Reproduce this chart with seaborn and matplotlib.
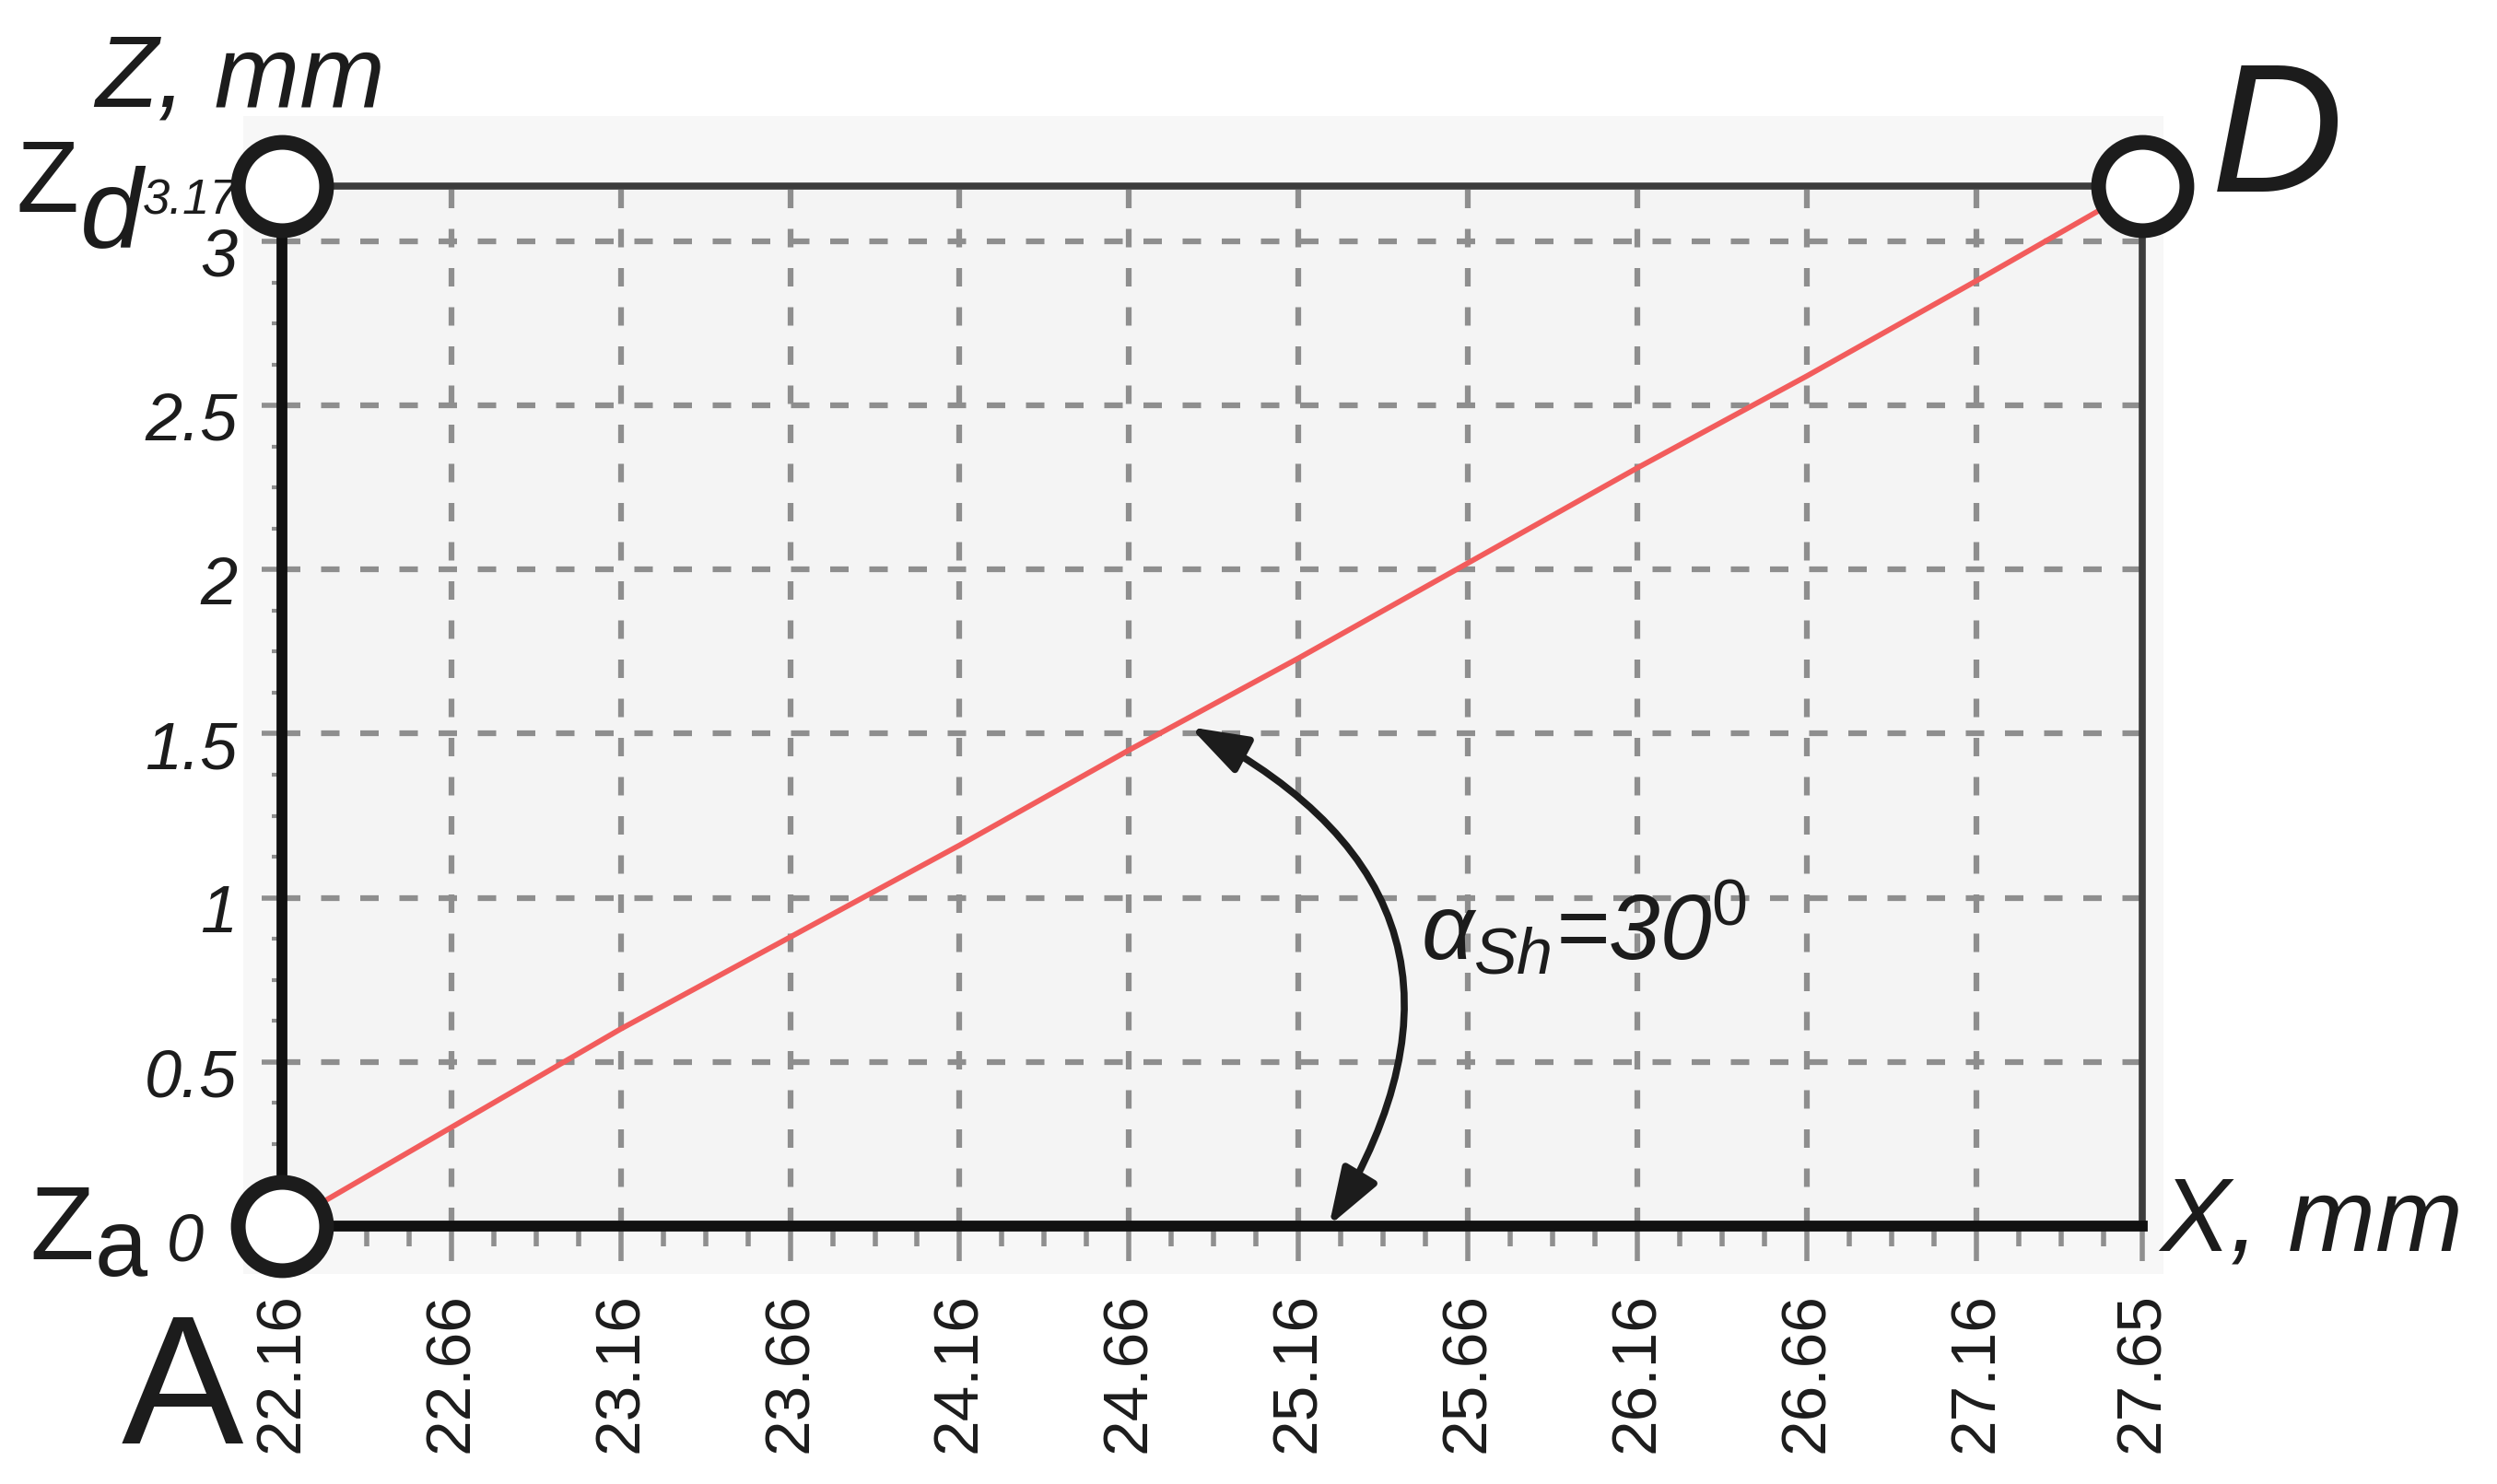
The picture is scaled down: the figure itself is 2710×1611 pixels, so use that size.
import numpy as np
import matplotlib
matplotlib.use("Agg")
import matplotlib.pyplot as plt
import matplotlib.transforms as mtransforms
from matplotlib.patches import Rectangle
from matplotlib.ticker import MultipleLocator
import seaborn as sns

# ---- data ----
x_ticks = [22.16, 22.66, 23.16, 23.66, 24.16, 24.66, 25.16, 25.66, 26.16, 26.66, 27.16, 27.65]
x_tick_labels = ["22.16", "22.66", "23.16", "23.66", "24.16", "24.66",
                 "25.16", "25.66", "26.16", "26.66", "27.16", "27.65"]
z_ticks = [0, 0.5, 1, 1.5, 2, 2.5, 3, 3.17]
z_tick_labels = ["0", "0.5", "1", "1.5", "2", "2.5", "3", "3.17"]

# shaft profile (red line), sampled at the grid columns
profile_x = [22.16, 22.66, 23.16, 23.66, 24.16, 24.66, 25.16, 25.66, 26.16, 26.66, 27.16, 27.65]
profile_z = [0.00, 0.30, 0.60, 0.88, 1.16, 1.45, 1.73, 2.02, 2.31, 2.59, 2.88, 3.17]

# key points A, D and the Zd level marker
point_x = [22.16, 27.65, 22.16]
point_z = [0.0, 3.17, 3.17]

# angle arrow ends and label
arrow_top = (24.84, 1.52)
arrow_bottom = (25.25, 0.0)
angle_label = r"$\alpha_{Sh}$=30$^{\mathit{0}}$"
angle_label_pos = (25.52, 0.81)

# ---- style ----
sns.set_style("white")
plt.rcParams["font.family"] = ["Liberation Sans", "DejaVu Sans"]
plt.rcParams["mathtext.fontset"] = "custom"
plt.rcParams["mathtext.rm"] = "Liberation Sans"
plt.rcParams["mathtext.it"] = "Liberation Sans:italic"

fig = plt.figure(figsize=(27.1, 16.11), dpi=100)
fig.patch.set_facecolor("white")
fig.patches.append(Rectangle((0.0974, 0.1415), 0.769, 0.780, transform=fig.transFigure,
                             facecolor="#f7f7f7", edgecolor="none", zorder=-1))
ax = fig.add_axes([0.1129, 0.174, 0.745, 0.7008])
ax.set_facecolor("#f4f4f4")

sns.lineplot(x=profile_x, y=profile_z, ax=ax, color="#f25c5c", lw=4.2, zorder=4)
ax.plot(point_x, point_z, linestyle="none", marker="o", ms=69, mew=11.5,
        mfc="white", mec="#1c1c1c", clip_on=False, zorder=10)

ax.annotate("", xy=arrow_bottom, xytext=arrow_top,
            arrowprops=dict(arrowstyle="<|-|>,head_length=1.9,head_width=0.65",
                            connectionstyle="arc3,rad=-0.53", color="#1c1c1c",
                            lw=5.5, mutation_scale=20, shrinkA=0, shrinkB=0),
            zorder=6)
ax.text(*angle_label_pos, angle_label, fontsize=72, fontstyle="italic",
        ha="left", va="baseline", color="#1c1c1c", zorder=7)

ax.set_xlim(x_ticks[0], x_ticks[-1])
ax.set_ylim(z_ticks[0], z_ticks[-1])
ax.set_xticks(x_ticks)
ax.set_xticklabels(x_tick_labels, rotation=90, fontsize=50, color="#1c1c1c")
ax.set_yticks(z_ticks)
ax.set_yticklabels(z_tick_labels, fontsize=52, color="#1c1c1c")
ax.xaxis.set_minor_locator(MultipleLocator(0.125, offset=22.16))
ax.yaxis.set_minor_locator(MultipleLocator(0.125))

ax.tick_params(axis="x", which="major", direction="out", length=27, width=4,
               color="#8f8f8f", pad=25, bottom=True)
ax.tick_params(axis="x", which="minor", direction="out", length=16, width=4,
               color="#8f8f8f", bottom=True)
ax.tick_params(axis="y", which="major", direction="out", length=16, width=4,
               color="#8f8f8f", pad=19, left=True)
ax.tick_params(axis="y", which="minor", direction="out", length=8, width=3,
               color="#8f8f8f", left=True)

shift = mtransforms.ScaledTranslation(0, -8 / 72, fig.dpi_scale_trans)
for lbl in ax.get_yticklabels():
    lbl.set_fontstyle("italic")
    lbl.set_transform(lbl.get_transform() + shift)
ylabels = ax.get_yticklabels()
ylabels[-1].set_fontsize(38)
# the "0" label sits further left, clear of the A marker
ylabels[0].set_transform(ylabels[0].get_transform()
                         + mtransforms.ScaledTranslation(-26 / 72, 0, fig.dpi_scale_trans))

ax.grid(True, which="major", linestyle=(0, (3.2, 3.6)), color="#8e8e8e", lw=4.5)
ax.set_axisbelow(True)

for side in ["left", "bottom"]:
    ax.spines[side].set_linewidth(8.5)
    ax.spines[side].set_color("#111111")
for side in ["top", "right"]:
    ax.spines[side].set_linewidth(5.5)
    ax.spines[side].set_color("#3c3c3c")

# axis names and point names
txt = dict(color="#1c1c1c", va="baseline", ha="left")
fig.text(0.038, 0.9286, "Z, mm", fontsize=80, fontstyle="italic", **txt)
fig.text(0.865, 0.1576, "X, mm", fontsize=82, fontstyle="italic", **txt)
fig.text(0.0066, 0.857, "Z", fontsize=80, **txt)
fig.text(0.0321, 0.8336, "d", fontsize=88, fontstyle="italic", **txt)
fig.text(0.0118, 0.1515, "Z", fontsize=82, **txt)
fig.text(0.038, 0.1403, "a", fontsize=74, **txt)
fig.text(0.0487, 0.0273, "A", fontsize=143, **txt)
fig.text(0.8856, 0.871, "D", fontsize=143, fontstyle="italic", **txt)

fig.savefig("out.png", dpi=100)
